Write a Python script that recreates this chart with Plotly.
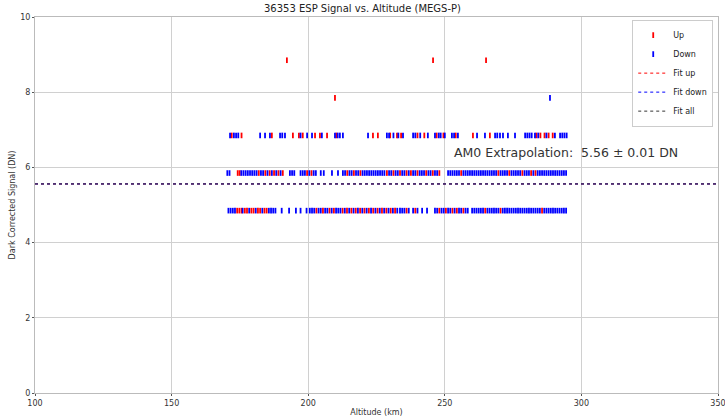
import plotly.graph_objects as go

# ---- data ----
levels = [4.85, 5.85, 6.85, 7.85, 8.85]

up_alt_485 = [174.0, 174.8, 175.6, 176.8, 177.6, 179.2, 180.0, 181.6, 182.4, 184.0, 184.8,
              203.0, 205.4, 207.8, 209.4, 212.6, 214.2, 215.8, 217.4, 219.0, 220.6, 222.2,
              223.8, 225.4, 227.0, 228.6, 230.2, 231.8, 236.0, 239.2, 248.0, 250.4, 252.8,
              254.4, 256.8, 264.8, 270.4, 285.6]
up_alt_585 = [174.2, 174.9, 181.9, 184.3, 185.9, 187.5, 189.1, 190.7, 199.6, 201.2, 214.3,
              216.7, 219.1, 228.8, 231.2, 233.6, 236.0, 237.6, 240.0, 243.2, 245.6, 248.0,
              256.0, 269.6, 273.6, 278.4, 281.6, 283.2]
up_alt_685 = [172.0, 175.6, 186.7, 194.4, 196.6, 198.0, 202.5, 204.3, 206.9, 210.3, 223.7,
              225.5, 230.0, 232.5, 234.0, 240.0, 242.5, 247.0, 249.5, 254.0, 260.3, 266.5,
              283.5, 285.0, 286.5, 288.0, 289.5]
up_alt_785 = [209.8]
up_alt_885 = [192.2, 245.7, 265.1]

down_alt_485 = [170.8, 171.6, 172.4, 173.2, 176.0, 178.4, 180.8, 183.2, 185.6, 186.4, 187.2,
                188.0, 190.3, 193.0, 195.5, 197.2, 199.4, 200.6, 201.4, 202.2, 203.8, 204.6,
                206.2, 207.0, 208.6, 210.2, 211.0, 211.8, 213.4, 215.0, 216.6, 218.2, 219.8,
                221.4, 223.0, 224.6, 226.2, 227.8, 229.4, 231.0, 232.6, 233.6, 234.4, 235.2,
                236.8, 238.4, 240.0, 241.7, 243.5, 246.4, 247.2, 248.8, 249.6, 251.2, 252.0,
                253.6, 255.2, 256.0, 257.6, 258.4, 260.0, 260.8, 261.6, 262.4, 263.2, 264.0,
                265.6, 266.4, 267.2, 268.0, 268.8, 269.6, 271.2, 272.0, 272.8, 273.6, 274.4,
                275.2, 276.0, 276.8, 277.6, 278.4, 279.2, 280.0, 280.8, 281.6, 282.4, 283.2,
                284.0, 284.8, 286.4, 287.2, 288.0, 288.8, 289.6, 290.4, 291.2, 292.0, 292.8,
                293.6, 294.4]
down_alt_585 = [170.4, 171.2, 175.5, 176.3, 177.1, 177.9, 178.7, 179.5, 180.3, 181.1, 182.7,
                183.5, 185.1, 186.7, 188.3, 189.9, 193.3, 194.1, 194.9, 197.2, 198.0, 198.8,
                200.4, 202.0, 202.8, 204.6, 205.7, 208.7, 210.9, 212.7, 213.5, 215.1, 215.9,
                217.5, 218.3, 219.9, 220.7, 221.5, 222.3, 223.1, 223.9, 224.7, 225.5, 226.3,
                227.1, 227.9, 229.6, 230.4, 232.0, 232.8, 234.4, 235.2, 236.8, 238.4, 239.2,
                240.8, 241.6, 242.4, 244.0, 244.8, 246.4, 247.2, 251.2, 252.0, 252.8, 253.6,
                254.4, 255.2, 256.8, 257.6, 258.4, 259.2, 260.0, 260.8, 261.6, 262.4, 263.2,
                264.0, 264.8, 265.6, 266.4, 267.2, 268.0, 268.8, 270.4, 271.2, 272.0, 272.8,
                274.4, 275.2, 276.0, 276.8, 277.6, 279.2, 280.0, 280.8, 282.4, 284.0, 284.8,
                285.6, 286.4, 287.2, 288.0, 288.8, 289.6, 290.4, 291.2, 292.0, 292.8, 293.6,
                294.4]
down_alt_685 = [171.4, 172.8, 173.6, 174.4, 182.4, 184.2, 186.0, 189.7, 190.5, 191.5, 197.2,
                199.6, 201.4, 205.0, 209.8, 210.8, 211.6, 212.7, 221.9, 228.8, 229.6, 231.2,
                233.0, 234.7, 238.4, 239.2, 241.0, 243.8, 246.4, 247.8, 248.5, 250.0, 252.6,
                253.4, 254.8, 261.8, 264.7, 268.4, 269.2, 270.2, 271.3, 273.1, 275.7, 279.4,
                280.2, 281.0, 281.8, 283.0, 284.2, 287.2, 290.3, 292.2, 293.0, 293.8, 294.6]
down_alt_785 = [288.5]
down_alt_885 = []

fit_range = [100, 350]
fit_up = 5.56
fit_down = 5.56
fit_all = 5.56
fit_all_err = 0.01

x_ticks = [100, 150, 200, 250, 300, 350]
y_ticks = [0, 2, 4, 6, 8, 10]

# ---- assemble series ----
up_groups = [up_alt_485, up_alt_585, up_alt_685, up_alt_785, up_alt_885]
down_groups = [down_alt_485, down_alt_585, down_alt_685, down_alt_785, down_alt_885]
up_x, up_y, dn_x, dn_y = [], [], [], []
for lv, g in zip(levels, up_groups):
    up_x += g
    up_y += [lv] * len(g)
for lv, g in zip(levels, down_groups):
    dn_x += g
    dn_y += [lv] * len(g)

FONT = "DejaVu Sans"
fig = go.Figure()
fig.add_trace(go.Scatter(x=up_x, y=up_y, mode="markers", name="Up",
                         marker=dict(symbol="line-ns", size=4, color="red",
                                     line=dict(color="red", width=1.8))))
fig.add_trace(go.Scatter(x=dn_x, y=dn_y, mode="markers", name="Down",
                         marker=dict(symbol="line-ns", size=4, color="blue",
                                     line=dict(color="blue", width=1.8))))
fig.add_trace(go.Scatter(x=fit_range, y=[fit_up, fit_up], mode="lines", name="Fit up",
                         line=dict(color="red", dash="dot", width=1)))
fig.add_trace(go.Scatter(x=fit_range, y=[fit_down, fit_down], mode="lines", name="Fit down",
                         line=dict(color="blue", dash="dot", width=1)))
fig.add_trace(go.Scatter(x=fit_range, y=[fit_all, fit_all], mode="lines", name="Fit all",
                         line=dict(color="#333333", dash="dot", width=1)))

fig.add_annotation(x=252.5, y=6.4, xref="x", yref="y", xanchor="left", yanchor="middle",
                   text=f"AM0 Extrapolation:  {fit_all:.2f} \u00b1 {fit_all_err:.2f} DN",
                   showarrow=False, font=dict(family=FONT, size=12.5, color="#333333"))

axis_common = dict(showgrid=True, gridcolor="#d0d0d0", gridwidth=1, showline=True,
                   linecolor="#bbbbbb", linewidth=1, mirror=True, ticks="outside",
                   ticklen=2, tickcolor="#555555", zeroline=False, automargin=False,
                   ticklabeloverflow="allow",
                   tickfont=dict(family=FONT, size=8, color="#333333"))

fig.update_layout(
    width=725, height=418,
    margin=dict(l=35, r=7, t=17, b=25),
    paper_bgcolor="white", plot_bgcolor="white",
    title=dict(text="36353 ESP Signal vs. Altitude (MEGS-P)", x=0.5, xanchor="center",
               y=0.98, yref="container", yanchor="middle",
               font=dict(family=FONT, size=10, color="#222222")),
    xaxis=dict(range=[100, 350], tickvals=x_ticks,
               title=dict(text="Altitude (km)", standoff=2,
                          font=dict(family=FONT, size=8, color="#333333")),
               **axis_common),
    yaxis=dict(range=[0, 10], tickvals=y_ticks,
               title=dict(text="Dark Corrected Signal (DN)", standoff=3,
                          font=dict(family=FONT, size=8, color="#333333")),
               **axis_common),
    legend=dict(x=0.993, y=0.993, xanchor="right", yanchor="top",
                bgcolor="white", bordercolor="#cccccc", borderwidth=1,
                font=dict(family=FONT, size=8, color="#222222"),
                itemwidth=30, tracegroupgap=0),
    showlegend=True,
)

fig.write_html("out.html")
